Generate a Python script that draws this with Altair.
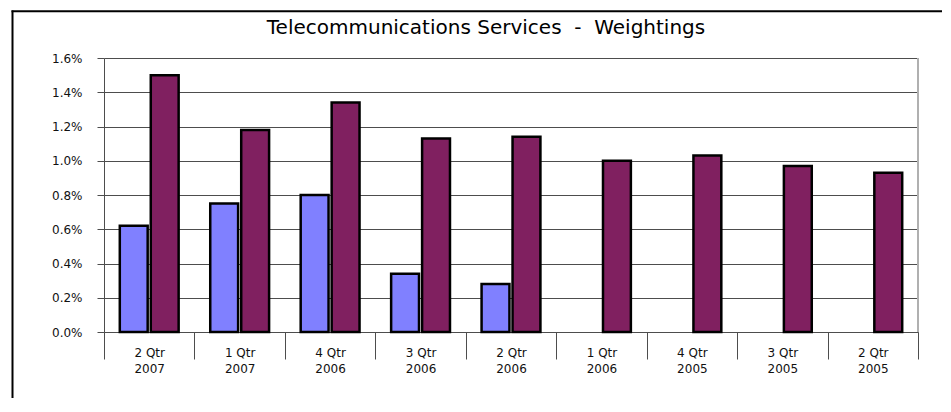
import altair as alt
import pandas as pd

# ---- data ----
quarters = ["2 Qtr|2007", "1 Qtr|2007", "4 Qtr|2006", "3 Qtr|2006", "2 Qtr|2006",
            "1 Qtr|2006", "4 Qtr|2005", "3 Qtr|2005", "2 Qtr|2005"]
series_a = [0.62, 0.75, 0.80, 0.34, 0.28, None, None, None, None]   # blue (percent)
series_b = [1.50, 1.18, 1.34, 1.13, 1.14, 1.00, 1.03, 0.97, 0.93]   # purple (percent)
y_ticks = [0.0, 0.2, 0.4, 0.6, 0.8, 1.0, 1.2, 1.4, 1.6]
title_text = "Telecommunications Services\u00a0\u00a0-\u00a0\u00a0Weightings"

rows = []
for q, a, b in zip(quarters, series_a, series_b):
    if a is not None:
        rows.append({"quarter": q, "series": "A", "value": a / 100})
    if b is not None:
        rows.append({"quarter": q, "series": "B", "value": b / 100})
df = pd.DataFrame(rows)

W, H = 814, 274
FONT = "DejaVu Sans"
GRID = "#4d4d4d"

bars = alt.Chart(df).mark_bar(stroke="black", strokeWidth=2.5).encode(
    x=alt.X("quarter:N", sort=quarters,
            scale=alt.Scale(paddingInner=0, paddingOuter=0),
            axis=alt.Axis(title=None, labelAngle=0, labelFont=FONT, labelFontSize=12,
                          labelColor="#111111", labelExpr="split(datum.label, '|')",
                          labelLineHeight=16, labelPadding=-12, tickBand="extent",
                          tickSize=27, tickColor=GRID, domainColor=GRID, grid=False)),
    xOffset=alt.XOffset("series:N",
                        scale=alt.Scale(domain=["A", "B"], paddingInner=0.1, paddingOuter=0.51)),
    y=alt.Y("value:Q",
            scale=alt.Scale(domain=[0, 0.016], nice=False),
            axis=alt.Axis(title=None, values=[v / 100 for v in y_ticks], format=".1%",
                          labelFont=FONT, labelFontSize=12, labelColor="#111111",
                          tickSize=7, labelPadding=15, tickColor=GRID, domainColor=GRID,
                          grid=True, gridColor=GRID, gridOpacity=1, gridWidth=1)),
    color=alt.Color("series:N", scale=alt.Scale(domain=["A", "B"], range=["#8080FF", "#802060"]),
                    legend=None),
)

one = pd.DataFrame({"t": [title_text]})

title = alt.Chart(one).mark_text(font=FONT, fontSize=20, align="center",
                                 baseline="alphabetic", color="black").encode(
    x=alt.value(382), y=alt.value(-24.3), text="t:N")

right_border = alt.Chart(one).mark_rule(color="#b0b0b0", strokeWidth=2).encode(
    x=alt.value(W), y=alt.value(0), y2=alt.value(H))

frame_left = alt.Chart(one).mark_rule(color="black", strokeWidth=2).encode(
    x=alt.value(-91.5), y=alt.value(-47.5), y2=alt.value(H + 80))
frame_top = alt.Chart(one).mark_rule(color="black", strokeWidth=2).encode(
    x=alt.value(-92.5), x2=alt.value(W + 40), y=alt.value(-46.8))

chart = alt.layer(bars, right_border, title, frame_left, frame_top).properties(
    width=W, height=H,
    autosize=alt.AutoSizeParams(type="none"),
    padding={"left": 96, "top": 50, "right": 24, "bottom": 66},
).configure_view(stroke=None)

chart.save("out.html", embed_options={"renderer": "svg", "actions": False})
